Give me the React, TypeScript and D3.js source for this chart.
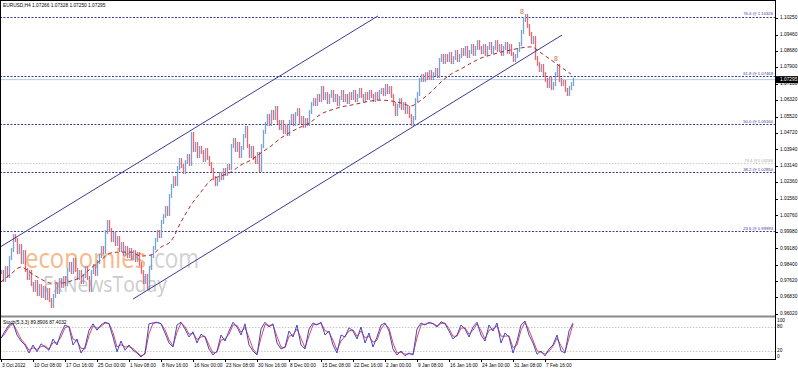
import React from "react";
import * as d3 from "d3";

// ---------------- data ----------------
const symbolHeader = "EURUSD,H4  1.07266 1.07328 1.07250 1.07295";
const stochHeader = "Stoch(5,3,3) 89.8906 87.4032";
const lastPrice = 1.07295;

// closes sampled every 2 bars (H4), from 3 Oct 2022
const closes = [
  0.9804, 0.9766, 0.9823, 0.9785, 0.9871, 0.9910, 0.9977, 0.9958, 0.9900, 0.9929,
  0.9852, 0.9900, 0.9814, 0.9775, 0.9804, 0.9746, 0.9718, 0.9756, 0.9698, 0.9737,
  0.9689, 0.9727, 0.9679, 0.9718, 0.9669, 0.9641, 0.9689, 0.9737, 0.9708, 0.9766,
  0.9737, 0.9775, 0.9746, 0.9814, 0.9843, 0.9804, 0.9862, 0.9814, 0.9775, 0.9804,
  0.9756, 0.9785, 0.9823, 0.9775, 0.9718, 0.9804, 0.9833, 0.9795, 0.9852, 0.9881,
  0.9920, 0.9900, 0.9997, 1.0045, 1.0006, 0.9958, 0.9987, 0.9939, 0.9968, 0.9910,
  0.9939, 0.9891, 0.9920, 0.9881, 0.9910, 0.9871, 0.9900, 0.9862, 0.9891, 0.9843,
  0.9804, 0.9756, 0.9785, 0.9727, 0.9823, 0.9881, 0.9920, 0.9958, 0.9997, 0.9977,
  1.0045, 1.0073, 1.0112, 1.0083, 1.0170, 1.0218, 1.0256, 1.0227, 1.0304, 1.0343,
  1.0314, 1.0285, 1.0333, 1.0362, 1.0324, 1.0468, 1.0391, 1.0420, 1.0362, 1.0401,
  1.0381, 1.0343, 1.0391, 1.0353, 1.0324, 1.0295, 1.0256, 1.0227, 1.0247, 1.0276,
  1.0256, 1.0295, 1.0276, 1.0314, 1.0304, 1.0410, 1.0439, 1.0391, 1.0420, 1.0362,
  1.0401, 1.0458, 1.0497, 1.0410, 1.0362, 1.0401, 1.0353, 1.0333, 1.0372, 1.0295,
  1.0410, 1.0478, 1.0516, 1.0555, 1.0516, 1.0574, 1.0545, 1.0593, 1.0526, 1.0497,
  1.0526, 1.0478, 1.0507, 1.0468, 1.0526, 1.0555, 1.0516, 1.0564, 1.0583, 1.0526,
  1.0545, 1.0507, 1.0535, 1.0516, 1.0574, 1.0612, 1.0631, 1.0612, 1.0651, 1.0631,
  1.0689, 1.0641, 1.0660, 1.0622, 1.0651, 1.0670, 1.0631, 1.0651, 1.0612, 1.0641,
  1.0670, 1.0631, 1.0651, 1.0622, 1.0660, 1.0641, 1.0670, 1.0631, 1.0651, 1.0680,
  1.0651, 1.0631, 1.0660, 1.0641, 1.0670, 1.0651, 1.0631, 1.0660, 1.0641, 1.0670,
  1.0680, 1.0660, 1.0699, 1.0670, 1.0689, 1.0651, 1.0612, 1.0564, 1.0603, 1.0631,
  1.0593, 1.0612, 1.0574, 1.0593, 1.0555, 1.0516, 1.0545, 1.0631, 1.0660, 1.0728,
  1.0747, 1.0728, 1.0756, 1.0737, 1.0766, 1.0737, 1.0756, 1.0776, 1.0747, 1.0824,
  1.0843, 1.0814, 1.0843, 1.0824, 1.0853, 1.0814, 1.0833, 1.0862, 1.0824, 1.0843,
  1.0872, 1.0853, 1.0882, 1.0843, 1.0862, 1.0891, 1.0853, 1.0882, 1.0910, 1.0882,
  1.0862, 1.0891, 1.0853, 1.0882, 1.0901, 1.0862, 1.0882, 1.0910, 1.0872, 1.0891,
  1.0853, 1.0882, 1.0901, 1.0862, 1.0891, 1.0853, 1.0824, 1.0843, 1.0872, 1.0901,
  1.0959, 1.1016, 1.1036, 1.0987, 1.0949, 1.0910, 1.0930, 1.0833, 1.0805, 1.0776,
  1.0795, 1.0756, 1.0728, 1.0699, 1.0737, 1.0689, 1.0708, 1.0756, 1.0795, 1.0728,
  1.0708, 1.0718, 1.0680, 1.0660, 1.0689, 1.0708, 1.07295,
];
const closeStep = 2; // bars between samples

// moving average sampled every 10 bars
const maValues = [
  0.9756, 0.9795, 0.9828, 0.9799, 0.9770, 0.9751, 0.9751, 0.9761, 0.9780, 0.9823,
  0.9862, 0.9896, 0.9900, 0.9900, 0.9881, 0.9886, 0.9924, 0.9953, 1.0045, 1.0126,
  1.0189, 1.0247, 1.0266, 1.0285, 1.0319, 1.0343, 1.0377, 1.0410, 1.0449, 1.0478,
  1.0502, 1.0526, 1.0564, 1.0583, 1.0598, 1.0607, 1.0617, 1.0627, 1.0631, 1.0627,
  1.0617, 1.0603, 1.0631, 1.0670, 1.0718, 1.0756, 1.0781, 1.0809, 1.0833, 1.0848,
  1.0862, 1.0872, 1.0882, 1.0887, 1.0858, 1.0824, 1.0790, 1.0756,
];
const maStep = 10;

// stochastic sampled every 4 bars
const stochMain = [
  52, 70, 85, 90, 60, 45, 35, 15, 35, 18,
  38, 30, 22, 50, 35, 65, 85, 80, 35, 50,
  15, 30, 72, 88, 72, 85, 92, 88, 55, 18,
  45, 22, 35, 22, 15, 5, 15, 88, 90, 92,
  88, 65, 40, 30, 85, 92, 75, 55, 68, 40,
  62, 55, 25, 10, 20, 60, 45, 70, 92, 80,
  60, 88, 35, 20, 10, 75, 92, 80, 88, 40,
  25, 30, 70, 55, 85, 35, 25, 75, 90, 85,
  92, 60, 70, 35, 15, 60, 55, 78, 70, 50,
  80, 40, 65, 30, 55, 85, 90, 70, 25, 10,
  20, 8, 15, 10, 75, 90, 85, 92, 88, 80,
  93, 88, 70, 50, 60, 85, 75, 55, 80, 92,
  60, 45, 85, 70, 90, 40, 65, 55, 15, 45,
  85, 95, 60, 40, 12, 20, 8, 25, 35, 60,
  20, 15, 70, 89.89,
];
const stochSignal = [
  52, 64, 80, 88, 70, 50, 38, 22, 28, 24,
  31, 33, 25, 41, 40, 55, 78, 82, 50, 45,
  27, 25, 58, 83, 77, 81, 90, 89, 66, 30,
  36, 30, 31, 26, 17, 8, 12, 64, 89, 91,
  89, 73, 48, 33, 67, 90, 81, 62, 64, 49,
  55, 57, 35, 15, 17, 47, 50, 62, 85, 84,
  67, 79, 53, 25, 13, 53, 86, 84, 85, 56,
  30, 28, 57, 60, 75, 52, 28, 58, 85, 87,
  90, 71, 67, 47, 22, 45, 57, 70, 73, 57,
  70, 53, 57, 42, 47, 75, 88, 77, 40, 15,
  17, 12, 13, 12, 53, 85, 87, 90, 89, 83,
  89, 90, 76, 57, 57, 77, 78, 62, 72, 88,
  71, 50, 72, 75, 83, 57, 57, 58, 28, 35,
  72, 92, 72, 47, 21, 17, 12, 19, 32, 52,
  33, 17, 52, 87.4,
];
const stochStep = 4;
const stochLevels = [80, 20];
const stochAxisLabels = [
  { v: 100, t: "100" },
  { v: 80, t: "80" },
  { v: 20, t: "20" },
  { v: 0, t: "0" },
];

const priceTicks = [
  1.1025, 1.0946, 1.0868, 1.079, 1.071, 1.0632, 1.0552, 1.0472, 1.0394, 1.0314,
  1.0236, 1.0156, 1.0076, 0.9998, 0.9918, 0.984, 0.9762, 0.9683, 0.9602,
];

const fibLevels = [
  { level: "76.4", price: 1.10326 },
  { level: "61.8", price: 1.07469 },
  { level: "50.0", price: 1.0516 },
  { level: "38.2", price: 1.0285 },
  { level: "23.6", price: 0.99993 },
];
const fibGrey = { level: "76.4", price: 1.03266 };

// trend channel: [bar index, price]
const channelUpper = [
  [0, 0.9924],
  [378, 1.1036],
];
const channelLower = [
  [133, 0.9674],
  [562, 1.0944],
];

// swing markers: [bar index, price]
const swingMarks = [
  [522, 1.1055],
  [556, 1.0826],
];

const timeLabels = [
  "3 Oct 2022", "10 Oct 08:00", "17 Oct 16:00", "25 Oct 00:00", "1 Nov 08:00",
  "8 Nov 16:00", "16 Nov 00:00", "23 Nov 08:00", "30 Nov 16:00", "8 Dec 00:00",
  "15 Dec 08:00", "22 Dec 16:00", "2 Jan 00:00", "9 Jan 08:00", "16 Jan 16:00",
  "24 Jan 00:00", "31 Jan 08:00", "7 Feb 16:00",
];
const timeLabelEvery = 32;
const timeLabelOffset = 1;

// ---------------- layout ----------------
const W = 798;
const H = 372;
const PLOT_R = 775;
const MAIN_B = 316;
const STOCH_T = 318;
const STOCH_B = 359;
const FONT = "'Liberation Sans', Arial, sans-serif";
const FS = 4.8;

const UP = "#76a4d8";
const DOWN = "#f0646f";
const NAVY = "#3a3a96";

export default function App() {
  const x = d3.scaleLinear().domain([0, PLOT_R]).range([0, PLOT_R]);
  const y = d3.scaleLinear().domain([1.11125, 0.9607]).range([0, 313]);
  const ys = d3.scaleLinear().domain([0, 100]).range([STOCH_B, STOCH_T + 1]);

  const bars = closes.map((c, i) => {
    const prev = i === 0 ? c : closes[i - 1];
    const y1 = Math.min(y(prev), y(c)) - 2;
    const y2 = Math.max(y(prev), y(c)) + 2;
    return { x: Math.round(x(i * closeStep)) + 1.5, y1, y2, up: c >= prev };
  });

  const maLine = d3
    .line<number>()
    .x((_, i) => x(i * maStep) + 1)
    .y((d) => y(d))
    .curve(d3.curveMonotoneX)(maValues) as string;

  const stLine = (arr: number[]) =>
    d3
      .line<number>()
      .x((_, i) => x(i * stochStep) + 1)
      .y((d) => ys(d))(arr) as string;

  const fmt = d3.format(".5f");
  const lastY = y(lastPrice);

  return (
    <svg width={W} height={H} style={{ display: "block", position: "absolute", left: 0, top: 0, background: "#fff" }}>
      <rect x={0} y={0} width={W} height={H} fill="#fff" />
      <defs>
        <clipPath id="mainClip">
          <rect x={0} y={0} width={PLOT_R} height={MAIN_B} />
        </clipPath>
        <clipPath id="stClip">
          <rect x={0} y={STOCH_T} width={PLOT_R} height={STOCH_B - STOCH_T} />
        </clipPath>
      </defs>

      {/* watermark */}
      <text fontFamily="'Open Sans', sans-serif">
        <tspan x={25} y={268} fontSize={27} fill="#f6b88c" textLength={121} lengthAdjust="spacingAndGlyphs">
          economies
        </tspan>
        <tspan x={148} y={268} fontSize={27} fill="#d2d2d2" textLength={51} lengthAdjust="spacingAndGlyphs">
          .com
        </tspan>
        <tspan x={43} y={292} fontSize={21} fill="#cccccc" textLength={124} lengthAdjust="spacingAndGlyphs">
          FxNewsToday
        </tspan>
      </text>

      <g clipPath="url(#mainClip)">
        {/* fib levels */}
        <line x1={0} x2={PLOT_R} y1={y(fibGrey.price)} y2={y(fibGrey.price)} stroke="#c4c4c4" strokeDasharray="1.5,1.5" />
        {fibLevels.map((f) => (
          <line key={f.level} x1={0} x2={PLOT_R} y1={Math.round(y(f.price)) + 0.5} y2={Math.round(y(f.price)) + 0.5} stroke={NAVY} strokeDasharray="2,1.5" />
        ))}
        {/* current price line */}
        <line x1={0} x2={PLOT_R} y1={lastY} y2={lastY} stroke="#b4cce4" strokeWidth={1} />

        {/* bars */}
        {bars.map((b, i) => (
          <line key={i} x1={b.x} x2={b.x} y1={b.y1} y2={b.y2} stroke={b.up ? UP : DOWN} strokeWidth={1.3} />
        ))}

        {/* moving average */}
        <path d={maLine} fill="none" stroke="#a3302c" strokeWidth={1} strokeDasharray="4,3" />

        {/* channel */}
        <line x1={x(channelUpper[0][0])} y1={y(channelUpper[0][1])} x2={x(channelUpper[1][0])} y2={y(channelUpper[1][1])} stroke={NAVY} strokeWidth={1} />
        <line x1={x(channelLower[0][0])} y1={y(channelLower[0][1])} x2={x(channelLower[1][0])} y2={y(channelLower[1][1])} stroke={NAVY} strokeWidth={1} />

        {/* swing marks */}
        {swingMarks.map((m, i) => (
          <text key={i} x={x(m[0])} y={y(m[1])} fontSize={7} fontFamily={FONT} fill="#e0623a" textAnchor="middle" dominantBaseline="middle">
            8
          </text>
        ))}
      </g>

      {/* fib labels */}
      <g fontFamily={FONT} fontSize={FS - 0.6}>
        <text x={PLOT_R - 2} y={y(fibGrey.price) - 1.5} fill="#a8a8a8" textAnchor="end">
          {`${fibGrey.level} @${fmt(fibGrey.price)}`}
        </text>
        {fibLevels.map((f) => (
          <text key={f.level} x={PLOT_R - 2} y={y(f.price) - 1.5} fill={NAVY} textAnchor="end">
            {`${f.level} @ ${fmt(f.price)}`}
          </text>
        ))}
      </g>

      {/* header */}
      <text x={3} y={7} fontFamily={FONT} fontSize={FS} fill="#000">
        {symbolHeader}
      </text>

      {/* separator between panels */}
      <line x1={0} x2={PLOT_R} y1={MAIN_B + 0.5} y2={MAIN_B + 0.5} stroke="#8a8a8a" strokeWidth={2} />

      {/* stochastic panel */}
      <g clipPath="url(#stClip)">
        {stochLevels.map((l) => (
          <line key={l} x1={0} x2={PLOT_R} y1={Math.round(ys(l)) + 0.5} y2={Math.round(ys(l)) + 0.5} stroke="#c8c8c8" strokeDasharray="1.5,1.5" />
        ))}
        <path d={stLine(stochSignal)} fill="none" stroke="#e0485a" strokeWidth={1} />
        <path d={stLine(stochMain)} fill="none" stroke="#4646c8" strokeWidth={1} />
      </g>
      <text x={3} y={324} fontFamily={FONT} fontSize={FS} fill="#000">
        {stochHeader}
      </text>

      {/* frame */}
      <line x1={0.5} x2={0.5} y1={0} y2={STOCH_B} stroke="#000" strokeWidth={1} />
      <line x1={0} x2={PLOT_R} y1={0.5} y2={0.5} stroke="#000" strokeWidth={1} />
      <line x1={PLOT_R + 0.5} x2={PLOT_R + 0.5} y1={0} y2={STOCH_B + 0.5} stroke="#000" strokeWidth={1} />
      <line x1={0} x2={PLOT_R + 1} y1={STOCH_B + 0.5} y2={STOCH_B + 0.5} stroke="#000" strokeWidth={1} />

      {/* price axis */}
      <g fontFamily={FONT} fontSize={FS} fill="#000">
        {priceTicks.map((p) => (
          <g key={p}>
            <line x1={PLOT_R} x2={PLOT_R + 3} y1={Math.round(y(p)) + 0.5} y2={Math.round(y(p)) + 0.5} stroke="#000" />
            <text x={PLOT_R + 5} y={y(p)} dominantBaseline="middle">
              {fmt(p)}
            </text>
          </g>
        ))}
      </g>
      {/* last price box */}
      <rect x={PLOT_R + 1} y={lastY - 3.5} width={W - PLOT_R - 1} height={7} fill="#000" />
      <text x={PLOT_R + 5} y={lastY} fontFamily={FONT} fontSize={FS} fill="#fff" dominantBaseline="middle">
        {fmt(lastPrice)}
      </text>

      {/* stochastic axis */}
      <g fontFamily={FONT} fontSize={FS} fill="#000">
        {stochAxisLabels.map((s) => (
          <text key={s.t} x={PLOT_R + 2} y={Math.min(Math.max(ys(s.v), STOCH_T + 3), STOCH_B - 2.5)} dominantBaseline="middle">
            {s.t}
          </text>
        ))}
      </g>

      {/* time axis */}
      <g fontFamily={FONT} fontSize={FS} fill="#000">
        {timeLabels.map((t, i) => {
          const bx = x(i * timeLabelEvery + timeLabelOffset);
          return (
            <g key={t}>
              <line x1={bx + 0.5} x2={bx + 0.5} y1={STOCH_B} y2={STOCH_B + 3} stroke="#000" />
              <text x={bx + 1} y={367}>
                {t}
              </text>
            </g>
          );
        })}
      </g>
    </svg>
  );
}
